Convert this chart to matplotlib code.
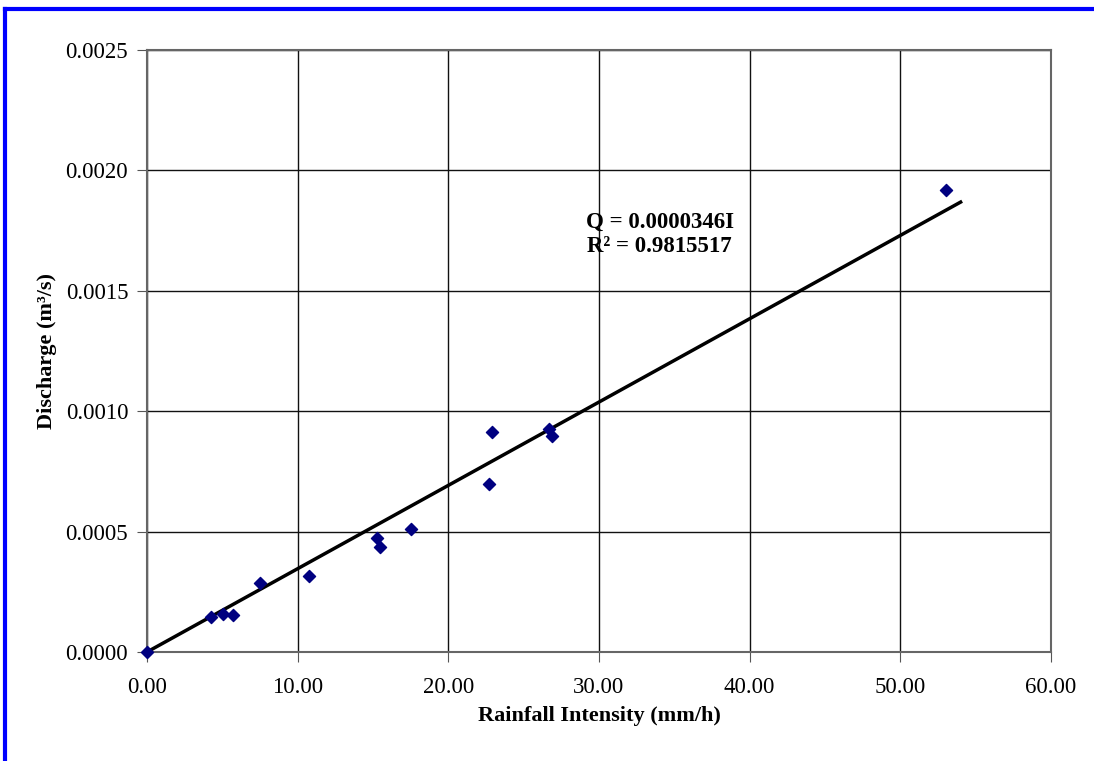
import matplotlib
matplotlib.use("Agg")
import matplotlib.pyplot as plt
from matplotlib.lines import Line2D

# rainfall intensity (mm/h) and measured discharge (m3/s)
intensity = [0.0, 4.25, 5.04, 5.69, 7.52, 10.77, 15.28, 15.44, 17.54,
             22.71, 22.91, 26.70, 26.89, 53.04]
discharge = [0.0, 0.000147, 0.000158, 0.000152, 0.000287, 0.000316,
             0.000475, 0.000437, 0.000510, 0.000696, 0.000914, 0.000928,
             0.000897, 0.001917]

slope = 0.0000346
fit_x = [0.0, 54.0]

xticks = [0, 10, 20, 30, 40, 50, 60]
yticks = [0.0, 0.0005, 0.0010, 0.0015, 0.0020, 0.0025]

plt.rcParams["font.family"] = ["Liberation Serif", "DejaVu Serif"]

fig = plt.figure(figsize=(10.94, 7.61), dpi=100)
ax = fig.add_axes([147 / 1094, 1 - 652 / 761, 904 / 1094, 602 / 761])

ax.plot(fit_x, [slope * x for x in fit_x], color="black", lw=2.5, zorder=3)
ax.scatter(intensity, discharge, marker="D", s=38, color="#000080",
           zorder=4, clip_on=False)

ax.set_xlim(0, 60)
ax.set_ylim(0, 0.0025)
ax.set_xticks(xticks)
ax.set_xticklabels([f"{v:.2f}" for v in xticks])
ax.set_yticks(yticks)
ax.set_yticklabels([f"{v:.4f}" for v in yticks])
ax.tick_params(labelsize=16.5, length=7, color="#555555")
ax.tick_params(axis="x", pad=11)
ax.tick_params(axis="y", pad=6.5)
ax.grid(True, color="#111111", lw=1)
ax.set_axisbelow(True)
for side in ax.spines.values():
    side.set_color("#666666")
    side.set_linewidth(1.5)

ax.set_xlabel("Rainfall Intensity (mm/h)", fontsize=16, fontweight="bold",
              labelpad=6)
ax.set_ylabel("Discharge (m³/s)", fontsize=16, fontweight="bold", labelpad=6)

ax.text(0.567, 0.6935, "Q = 0.0000346I\nR² = 0.9815517", transform=ax.transAxes,
        fontsize=16.5, fontweight="bold", ha="center", va="center",
        linespacing=1.2)

# blue frame on left and top of the figure
fig.add_artist(Line2D([5 / 1094, 5 / 1094], [0, 1 - 9 / 761],
                      color="blue", lw=3, transform=fig.transFigure))
fig.add_artist(Line2D([5 / 1094, 1093 / 1094], [1 - 9 / 761, 1 - 9 / 761],
                      color="blue", lw=3, transform=fig.transFigure))

fig.savefig("out.png", dpi=100)
